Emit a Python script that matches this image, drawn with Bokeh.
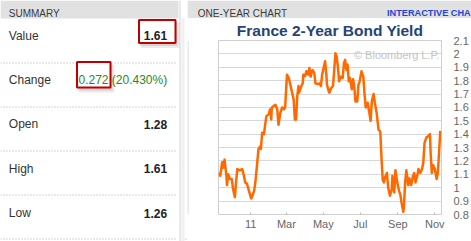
import pandas as pd
from bokeh.plotting import figure
from bokeh.layouts import row, column
from bokeh.models import (Range1d, FixedTicker, NumeralTickFormatter, Label, LinearAxis,
                          DatetimeAxis, ColumnDataSource, Grid)
from bokeh.core.properties import value
from bokeh.embed import file_html
from bokeh.resources import INLINE

# ---------------- data ----------------
dates = [
    "2010-11-09", "2010-11-12", "2010-11-15", "2010-11-17", "2010-11-19", "2010-11-22", "2010-11-23",
    "2010-11-25", "2010-11-28", "2010-12-01", "2010-12-03", "2010-12-06", "2010-12-08", "2010-12-10",
    "2010-12-14", "2010-12-18", "2010-12-21", "2010-12-23", "2010-12-26", "2010-12-29", "2011-01-02",
    "2011-01-04", "2011-01-07", "2011-01-09", "2011-01-11", "2011-01-14", "2011-01-17", "2011-01-18",
    "2011-01-20", "2011-01-23", "2011-01-25", "2011-01-27", "2011-01-31", "2011-02-02", "2011-02-04",
    "2011-02-05", "2011-02-08", "2011-02-11", "2011-02-14", "2011-02-16", "2011-02-19", "2011-02-22",
    "2011-02-25", "2011-02-27", "2011-03-02", "2011-03-05", "2011-03-07", "2011-03-10", "2011-03-13",
    "2011-03-15", "2011-03-17", "2011-03-19", "2011-03-21", "2011-03-22", "2011-03-25", "2011-03-28",
    "2011-03-29", "2011-04-01", "2011-04-03", "2011-04-06", "2011-04-08", "2011-04-10", "2011-04-13",
    "2011-04-16", "2011-04-18", "2011-04-22", "2011-04-25", "2011-04-27", "2011-04-29", "2011-05-02",
    "2011-05-04", "2011-05-06", "2011-05-07", "2011-05-10", "2011-05-11", "2011-05-14", "2011-05-17",
    "2011-05-19", "2011-05-21", "2011-05-23", "2011-05-25", "2011-05-27", "2011-05-30", "2011-06-02",
    "2011-06-04", "2011-06-06", "2011-06-08", "2011-06-10", "2011-06-12", "2011-06-14", "2011-06-17",
    "2011-06-19", "2011-06-21", "2011-06-23", "2011-06-26", "2011-06-28", "2011-06-30", "2011-07-03",
    "2011-07-06", "2011-07-08", "2011-07-10", "2011-07-13", "2011-07-16", "2011-07-18", "2011-07-20",
    "2011-07-23", "2011-07-25", "2011-07-28", "2011-07-31", "2011-08-03", "2011-08-05", "2011-08-07",
    "2011-08-09", "2011-08-11", "2011-08-14", "2011-08-16", "2011-08-19", "2011-08-22", "2011-08-23",
    "2011-08-26", "2011-08-28", "2011-08-31", "2011-09-03", "2011-09-05", "2011-09-07", "2011-09-10",
    "2011-09-11", "2011-09-13", "2011-09-15", "2011-09-18", "2011-09-20", "2011-09-23", "2011-09-26",
    "2011-09-28", "2011-09-30", "2011-10-03", "2011-10-05", "2011-10-08", "2011-10-11", "2011-10-13",
    "2011-10-15", "2011-10-18", "2011-10-21", "2011-10-24", "2011-10-25", "2011-10-27", "2011-10-29",
    "2011-11-01", "2011-11-04", "2011-11-06", "2011-11-08", "2011-11-10",
]
yields = [
    1.11, 1.09, 1.19, 1.15, 1.21, 1.09, 1.02,
    1.10, 1.065, 1.065, 0.99, 0.93, 1.04, 1.14,
    1.13, 1.14, 1.09, 1.04, 1.03, 0.98, 0.92,
    0.94, 0.98, 1.05, 1.14, 1.29, 1.31, 1.29,
    1.41, 1.40, 1.47, 1.535, 1.55, 1.585, 1.51,
    1.60, 1.61, 1.62, 1.585, 1.47, 1.56, 1.60,
    1.585, 1.60, 1.845, 1.82, 1.78, 1.72, 1.66,
    1.51, 1.51, 1.685, 1.76, 1.71, 1.75, 1.78,
    1.845, 1.835, 1.87, 1.845, 1.895, 1.83, 1.88,
    1.86, 1.78, 1.775, 1.78, 1.76, 1.845, 1.905,
    1.945, 1.845, 1.77, 1.72, 1.71, 1.745, 1.76,
    1.88, 2.005, 1.98, 1.905, 1.795, 1.83, 1.82,
    1.93, 1.955, 1.88, 1.92, 1.795, 1.82, 1.735,
    1.81, 1.76, 1.645, 1.645, 1.77, 1.795, 1.87,
    1.83, 1.70, 1.60, 1.635, 1.56, 1.50, 1.645,
    1.70, 1.635, 1.56, 1.435, 1.42, 1.22, 1.06,
    1.04, 1.08, 1.11, 1.00, 0.94, 0.99, 1.09,
    0.965, 1.13, 1.04, 0.975, 0.95, 0.89, 0.82,
    0.86, 1.04, 1.13, 1.02, 1.07, 1.02, 1.09,
    1.11, 1.04, 1.09, 1.14, 1.11, 1.14, 1.19,
    1.335, 1.375, 1.385, 1.40, 1.265, 1.11, 1.17,
    1.14, 1.065, 1.11, 1.265, 1.425,
]

y_ticks = [0.8, 0.9, 1.0, 1.1, 1.2, 1.3, 1.4, 1.5, 1.6, 1.7, 1.8, 1.9, 2.0, 2.1]
x_tick_dates = ["2011-01-01", "2011-03-01", "2011-05-01", "2011-07-01", "2011-09-01", "2011-11-01"]
x_tick_labels = ["11", "Mar", "May", "Jul", "Sep", "Nov"]
x_start, x_end = "2010-11-09", "2011-11-12"

chart_title = "France 2-Year Bond Yield"
summary_names = ["Value", "Change", "Open", "High", "Low"]
summary_values = ["1.61", "0.272 (20.430%)", "1.28", "1.61", "1.26"]

FONT = "Liberation Sans"


# -------- decoration canvases (data units == page pixels, y downwards) --------
def canvas(x0, x1, y0, y1):
    return figure(width=x1 - x0, height=y1 - y0, x_range=Range1d(x0, x1), y_range=Range1d(y1, y0),
                  x_axis_type=None, y_axis_type=None, min_border=0, toolbar_location=None,
                  output_backend="svg", outline_line_color=None,
                  background_fill_color="white", border_fill_color="white")


def band(f, l, t, r, b, color, alpha=1.0):
    f.quad(left=[l], right=[r], top=[t], bottom=[b], fill_color=color, fill_alpha=alpha, line_color=None)


def frame_box(f, l, t, r, b, color, lw):
    f.quad(left=[l], right=[r], top=[t], bottom=[b], fill_color="white", line_color=color, line_width=lw)


def seg(f, x0, y0, x1, y1, color, dash="solid", lw=1):
    f.segment(x0=[x0], y0=[y0], x1=[x1], y1=[y1], line_color=color, line_dash=dash, line_width=lw)


def txt(f, x, y, s, size="12px", color="#333333", align="left", style="normal"):
    f.text(x=[x], y=[y], text=[s], text_font=value(FONT), text_font_size=value(size),
           text_color=color, text_align=align, text_baseline="alphabetic", text_font_style=style)


# left summary panel
left = canvas(0, 187, 0, 241)
band(left, 0, 0, 178, 18, "#e1e1e1")
seg(left, 179.5, 0, 179.5, 241, "#d4d4d4")
band(left, 181, 18, 184, 241, "#f0f0f0")
txt(left, 8.3, 12.7, "SUMMARY", size="10px", color="#3a3a3a")
for yy in [62.5, 106.5, 150.5, 194.5, 238.5]:
    seg(left, 0, yy, 177, yy, "#a8a8a8", dash="1 2")
seg(left, 185, 238.5, 187, 238.5, "#a8a8a8", dash="1 2")
for (l, t, r, b) in [(138.5, 19.5, 175, 42.5), (76.5, 61.5, 110, 87)]:
    band(left, l + 2, t + 3, r + 4, b + 5, "#000000", alpha=0.08)
    band(left, l + 1, t + 2, r + 2, b + 3, "#000000", alpha=0.10)
    frame_box(left, l, t, r, b, "#c00000", 2)
for i, (nm, val) in enumerate(zip(summary_names, summary_values)):
    base = 35 + 44.4 * i
    txt(left, 8.3, base, nm, color="#333333")
    if nm == "Change":
        txt(left, 166.7, base, val, color="#1e8c1e", align="right")
    else:
        txt(left, 166.7, base, val, color="#222222", align="right", style="bold")

# right header
top = canvas(187, 471, 0, 18)
band(top, 187, 0, 471, 18, "#e1e1e1")
txt(top, 197.3, 12.7, "ONE-YEAR CHART", size="10px", color="#3a3a3a")
txt(top, 386.5, 12.7, "INTERACTIVE CHA", size="9.2px", color="#1f45d8", style="bold")

# left strip of the chart panel
strip = canvas(187, 217, 18, 236)
seg(strip, 187.5, 18, 187.5, 236, "#d4d4d4")

# bottom strip with dotted rule
bottom = canvas(187, 471, 236, 241)
seg(bottom, 187.5, 236, 187.5, 238, "#d4d4d4")
seg(bottom, 187, 238.5, 471, 238.5, "#a8a8a8", dash="1 2")

# ---------------- the chart ----------------
src = ColumnDataSource(dict(date=pd.to_datetime(dates), y=yields))
p = figure(width=254, height=218, x_axis_type=None, y_axis_type=None,
           x_range=Range1d(pd.Timestamp(x_start), pd.Timestamp(x_end)),
           y_range=Range1d(y_ticks[0], y_ticks[-1]),
           min_border_left=1, min_border_right=24, min_border_top=21, min_border_bottom=22,
           toolbar_location=None, output_backend="svg", title=chart_title,
           outline_line_color="#cfcfcf", border_fill_color="white", background_fill_color="white")
p.title.align = "center"
p.title.vertical_align = "bottom"
p.title.standoff = 3
p.title.text_font = FONT
p.title.text_font_size = "15.5px"
p.title.text_font_style = "bold"
p.title.text_color = "#244377"

yt = FixedTicker(ticks=y_ticks)
yaxis = LinearAxis(ticker=yt, formatter=NumeralTickFormatter(format="0.[0]"),
                   axis_line_color=None, major_tick_line_color=None, minor_tick_line_color=None,
                   major_label_standoff=6, major_label_text_font=FONT,
                   major_label_text_font_size="11px", major_label_text_color="#666666")
p.add_layout(yaxis, "right")

tick_ms = [int(pd.Timestamp(d).value // 10**6) for d in x_tick_dates]
xaxis = DatetimeAxis(ticker=FixedTicker(ticks=tick_ms),
                     major_label_overrides={t: l for t, l in zip(tick_ms, x_tick_labels)},
                     axis_line_color=None, major_tick_in=2, major_tick_out=0,
                     major_tick_line_color="#bbbbbb", minor_tick_line_color=None,
                     major_label_standoff=3, major_label_text_font=FONT,
                     major_label_text_font_size="11px", major_label_text_color="#666666")
p.add_layout(xaxis, "below")
p.add_layout(Grid(dimension=1, ticker=yt, grid_line_color="#d9d9d9", grid_line_width=1))

p.line(x="date", y="y", source=src, line_color="#ff6a00", line_width=2.5, line_join="round")

p.add_layout(Label(x=221, y=160, x_units="screen", y_units="screen", text="\u00a9 Bloomberg L.P.",
                   text_font=FONT, text_font_size="11px", text_color="#c4c4c4",
                   text_align="right", text_baseline="alphabetic"))

layout = row(left, column(top, row(strip, p), bottom))
open("out.html", "w").write(file_html(layout, INLINE))
